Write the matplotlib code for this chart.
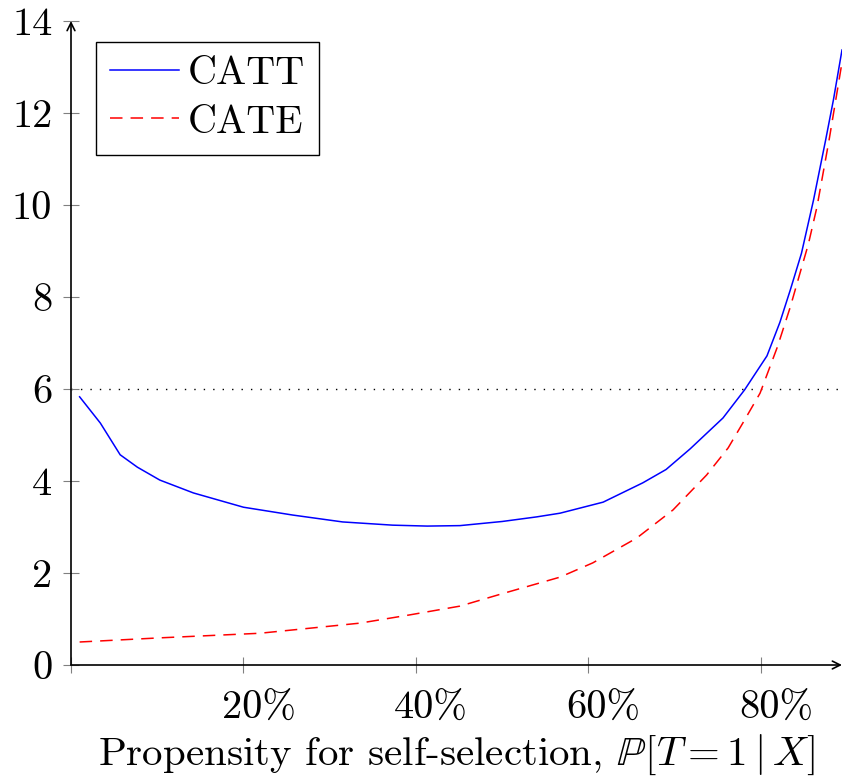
import matplotlib
matplotlib.use("Agg")
import matplotlib.pyplot as plt
import matplotlib.transforms as mtransforms
from matplotlib.ticker import FixedLocator, FixedFormatter

plt.rcParams['font.family'] = 'serif'
plt.rcParams['font.serif'] = ['cmr10']
plt.rcParams['mathtext.fontset'] = 'cm'
plt.rcParams['axes.formatter.use_mathtext'] = True

# ---- data ----
catt_x = [0.010, 0.034, 0.057, 0.077, 0.103, 0.142, 0.200, 0.257, 0.315, 0.373,
          0.413, 0.451, 0.500, 0.540, 0.567, 0.617, 0.663, 0.690, 0.718, 0.756,
          0.781, 0.807, 0.822, 0.834, 0.847, 0.861, 0.875, 0.884, 0.894]
catt_y = [5.83, 5.26, 4.57, 4.30, 4.02, 3.74, 3.43, 3.26, 3.11, 3.04,
          3.02, 3.03, 3.12, 3.22, 3.30, 3.54, 3.96, 4.25, 4.70, 5.37,
          5.98, 6.72, 7.45, 8.15, 8.95, 10.11, 11.41, 12.28, 13.37]

cate_x = [0.010, 0.103, 0.219, 0.335, 0.393, 0.451, 0.500, 0.567, 0.605, 0.656,
          0.698, 0.737, 0.762, 0.779, 0.799, 0.819, 0.834, 0.845, 0.855, 0.865,
          0.879, 0.894]
cate_y = [0.50, 0.59, 0.69, 0.91, 1.09, 1.28, 1.55, 1.91, 2.22, 2.76,
          3.37, 4.13, 4.72, 5.26, 5.91, 6.91, 7.78, 8.50, 9.15, 9.96,
          11.41, 13.10]

threshold = 6
x_ticks = [0.0, 0.2, 0.4, 0.6, 0.8]
x_tick_labels = ['', '20%', '40%', '60%', '80%']
y_ticks = [0, 2, 4, 6, 8, 10, 12, 14]
y_tick_labels = ['0', '2', '4', '6', '8', '10', '12', '14']

# ---- figure ----
fig = plt.figure(figsize=(8.42, 7.76), dpi=100)
ax = fig.add_axes([71/842, 1-665/776, (842-71)/842, (665-21)/776])
ax.set_xlim(0, 0.894)
ax.set_ylim(0, 14)

ax.axhline(threshold, color='black', lw=1.0, linestyle=(0, (1, 5.8)), zorder=1)
lw = 1.1
ax.plot(catt_x, catt_y, color='#0000ff', lw=lw, label='CATT', zorder=3,
        solid_joinstyle='round')
ax.plot(cate_x, cate_y, color='#ff0000', lw=lw, linestyle=(0, (9.0/lw, 5.8/lw)),
        label='CATE', zorder=2)

for s in ax.spines.values():
    s.set_visible(False)
ax.annotate('', xy=(1.0, 0), xytext=(0, 0), xycoords='axes fraction',
            arrowprops=dict(arrowstyle='->', color='black', lw=1.2,
                            shrinkA=0, shrinkB=0, mutation_scale=14), zorder=5)
ax.annotate('', xy=(0, 1.0), xytext=(0, 0), xycoords='axes fraction',
            arrowprops=dict(arrowstyle='->', color='black', lw=1.2,
                            shrinkA=0, shrinkB=0, mutation_scale=14), zorder=5)

ax.xaxis.set_major_locator(FixedLocator(x_ticks))
ax.xaxis.set_major_formatter(FixedFormatter(x_tick_labels))
ax.yaxis.set_major_locator(FixedLocator(y_ticks))
ax.yaxis.set_major_formatter(FixedFormatter(y_tick_labels))
ax.tick_params(axis='both', direction='inout', length=11, width=0.8, color='#808080',
               labelsize=29)
ax.tick_params(axis='x', pad=13)
ax.tick_params(axis='y', pad=8)

shift = mtransforms.ScaledTranslation(15/100, 0, fig.dpi_scale_trans)
for lab in ax.get_xticklabels():
    lab.set_transform(lab.get_transform() + shift)

ax.set_xlabel(r'Propensity for self-selection, $\mathbb{P}[T=1\mid X]$',
              fontsize=29.5, labelpad=4.5)

leg = ax.legend(loc='upper left', bbox_to_anchor=((96-71)/771, (665-42)/644),
                fontsize=29, frameon=True, fancybox=False, edgecolor='black',
                framealpha=1, handlelength=1.7, handletextpad=0.22,
                borderpad=0.35, labelspacing=0.3, borderaxespad=0)
leg.get_frame().set_linewidth(1.0)

fig.savefig('out.png', dpi=100)
